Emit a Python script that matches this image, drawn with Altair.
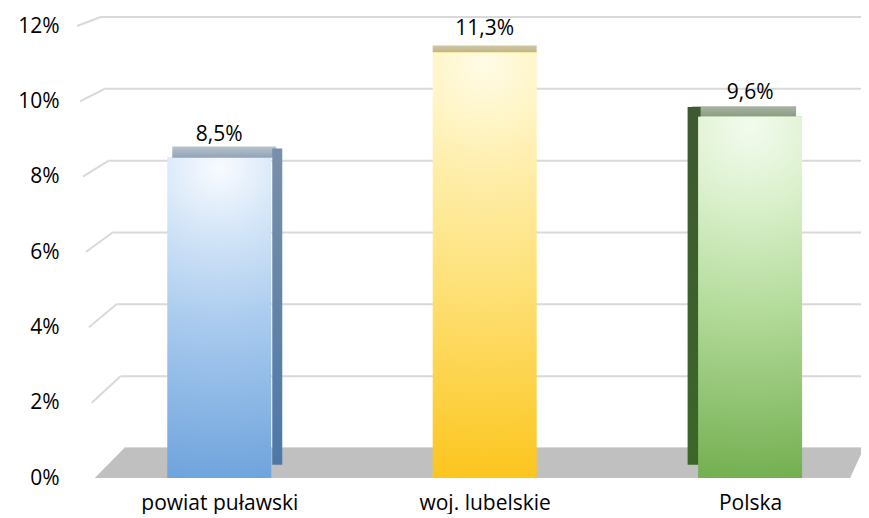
import altair as alt
import pandas as pd

# ---- data ----
categories = ["powiat puławski", "woj. lubelskie", "Polska"]
values = [8.5, 11.3, 9.6]
y_ticks = [0, 2, 4, 6, 8, 10, 12]

df = pd.DataFrame({"idx": list(range(len(categories))), "category": categories, "value": values})
df["label"] = [f"{v:.1f}".replace(".", ",") + "%" for v in values]
grid_df = pd.DataFrame({"v": y_ticks})

# ---- layout / style ----
FONT = "Open Sans"
FS = 21
W, H = 789, 452
PLOT_LEFT = 72            # page x of plot area's left edge
X_DOMAIN = [-0.536, 2.399]
PXU = W / (X_DOMAIN[1] - X_DOMAIN[0])
Y_FRONT = [0, 12]
Y_BACK = [-0.835, 11.75]  # back wall of the 3D box (gridlines, floor)
FRONT_PX, BACK_PX = 37.67, 35.92   # px per percent on front / back plane
BAR_W = 104


def px2x(p):
    return X_DOMAIN[0] + (p - PLOT_LEFT) / PXU


styles = [
    dict(front=["#f8fbff", "#d2e4f7", "#a8caee", "#6ca2dc"], side=["#7890aa", "#4d78a6"],
         top=["#b9c3cc", "#8ea3b8"], side_off=58, side_w=10, top_off=5, top_h=0.30),
    dict(front=["#fffce6", "#fff0b2", "#fee27c", "#fcc419"], side=None,
         top=["#cfc79f", "#bfb58d"], side_off=0, side_w=0, top_off=0, top_h=0.18),
    dict(front=["#f3fbee", "#daf0cb", "#b5dc9c", "#71ad4d"], side=["#3e5a2f", "#3b6629"],
         top=["#a8b4a2", "#8c9c84"], side_off=-56, side_w=13, top_off=-6, top_h=0.27),
]

x_scale = alt.Scale(domain=X_DOMAIN, nice=False, zero=False)
y_scale = alt.Scale(domain=Y_FRONT, nice=False)
yb_scale = alt.Scale(domain=Y_BACK, nice=False, zero=False)

label_expr = "[" + ",".join(f"'{c}'" for c in categories) + "][datum.value]"
x_axis = alt.Axis(values=list(range(len(categories))), labelExpr=label_expr, title=None, grid=False,
                  domain=False, ticks=False, labelPadding=14, labelFont=FONT, labelFontSize=FS,
                  labelColor="#000000")
y_axis = alt.Axis(values=y_ticks, labelExpr="datum.value + '%'", title=None, grid=False, domain=False,
                  ticks=False, labelPadding=13, labelFont=FONT, labelFontSize=FS, labelColor="#000000",
                  orient="left")


def radial(cols):
    return {"gradient": "radial", "x1": 0.5, "y1": 0.03, "r1": 0, "x2": 0.5, "y2": 0.03, "r2": 1.0,
            "stops": [{"offset": 0, "color": cols[0]}, {"offset": 0.22, "color": cols[1]},
                      {"offset": 0.5, "color": cols[2]}, {"offset": 1, "color": cols[3]}]}


def vlin(cols):
    return {"gradient": "linear", "x1": 0, "y1": 0, "x2": 0, "y2": 1,
            "stops": [{"offset": 0, "color": cols[0]}, {"offset": 1, "color": cols[1]}]}


# ---- back wall: gridlines with 3D stubs, floor ----
grid_base = alt.Chart(grid_df).transform_calculate(
    xl=f"{X_DOMAIN[0]} + (90 - 1.5*datum.v - {PLOT_LEFT}) / {PXU}",
    xr=f"{X_DOMAIN[0]} + (120 - 2*datum.v - {PLOT_LEFT}) / {PXU}",
    yl=f"({FRONT_PX}*datum.v - 30) / {BACK_PX}",
)
grid_h = grid_base.mark_rule(color="#d9d9d9", strokeWidth=2).encode(
    x=alt.X("xr:Q", scale=x_scale, axis=x_axis), x2=alt.value("width"),
    y=alt.Y("v:Q", scale=yb_scale, axis=None),
)
grid_stub = grid_base.transform_filter(alt.datum.v > 0).mark_rule(color="#d9d9d9", strokeWidth=2).encode(
    x=alt.X("xl:Q", scale=x_scale, axis=x_axis), x2="xr:Q",
    y=alt.Y("yl:Q", scale=yb_scale, axis=None), y2="v:Q",
)
floor_df = pd.DataFrame({
    "fx": [px2x(90), px2x(120), px2x(855), px2x(869)],
    "ftop": [Y_BACK[0], 0, 0, 0],
    "fbot": [Y_BACK[0], Y_BACK[0], Y_BACK[0], 0],
})
floor = alt.Chart(floor_df).mark_area(color="#c0c0c0", clip=True).encode(
    x=alt.X("fx:Q", scale=x_scale, axis=x_axis),
    y=alt.Y("ftop:Q", scale=yb_scale, axis=None), y2="fbot:Q",
)
back = alt.layer(grid_h, grid_stub, floor)

# ---- bars ----
base = alt.Chart(df)
layers = []
for i, st in enumerate(styles):
    sub = base.transform_filter(alt.datum.idx == i).transform_calculate(
        top="datum.value + %f" % st["top_h"], sidetop="datum.value + 0.25")
    top = sub.mark_bar(size=BAR_W, color=vlin(st["top"]), xOffset=st["top_off"]).encode(
        x=alt.X("idx:Q", scale=x_scale, axis=x_axis),
        y=alt.Y("value:Q", scale=y_scale, axis=y_axis), y2="top:Q")
    layers.append(top)
    if st["side"]:
        side = sub.mark_bar(size=st["side_w"], color=vlin(st["side"]), xOffset=st["side_off"]).encode(
            x=alt.X("idx:Q", scale=x_scale, axis=x_axis),
            y=alt.Y("sidetop:Q", scale=y_scale, axis=y_axis), y2=alt.datum(0.35))
        layers.append(side)
    front = sub.mark_bar(size=BAR_W, color=radial(st["front"])).encode(
        x=alt.X("idx:Q", scale=x_scale, axis=x_axis),
        y=alt.Y("value:Q", scale=y_scale, axis=y_axis), y2=alt.datum(0))
    layers.append(front)

labels = base.mark_text(font=FONT, fontSize=FS, color="#000000", baseline="alphabetic", dy=-17).encode(
    x=alt.X("idx:Q", scale=x_scale, axis=x_axis),
    y=alt.Y("value:Q", scale=y_scale, axis=y_axis),
    text="label:N",
)
layers.append(labels)

inner = alt.layer(*layers)
chart = alt.layer(back, inner).resolve_scale(y="independent").properties(
    width=W, height=H,
    padding={"left": PLOT_LEFT - 8, "top": 18, "right": 0, "bottom": 36},
    autosize=alt.AutoSizeParams(type="none"),
    background="#ffffff",
).configure_view(stroke=None)

chart.save("out.html", embed_options={"renderer": "svg", "actions": False})
